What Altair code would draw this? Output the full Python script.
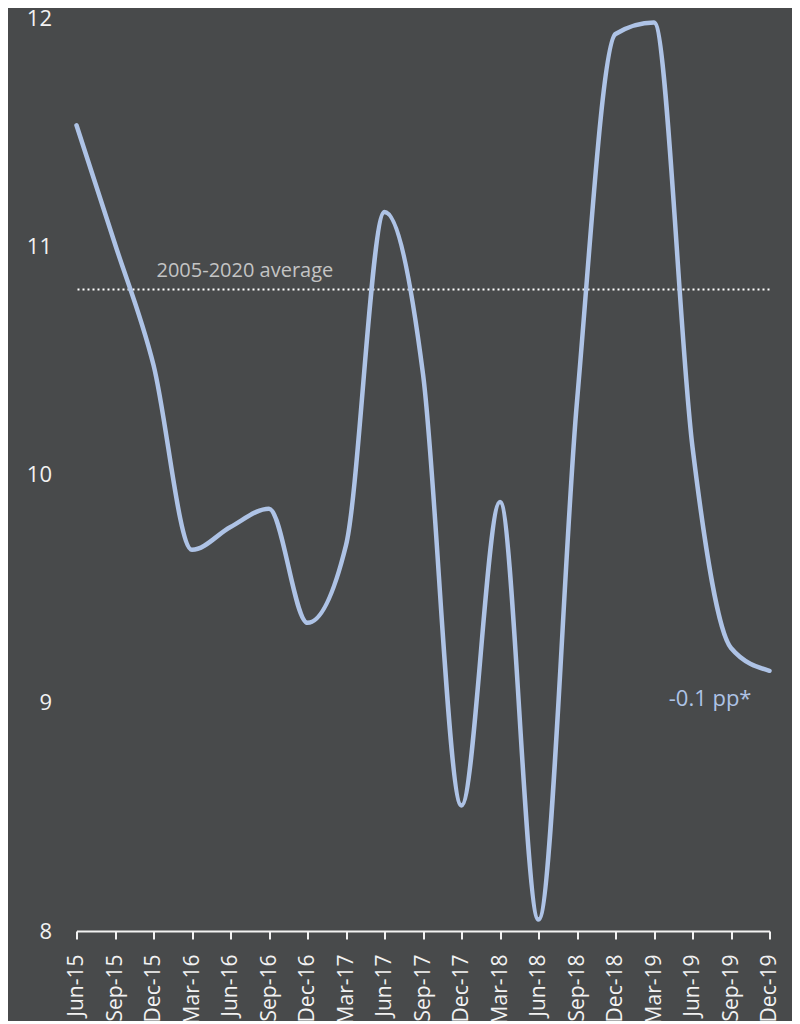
import altair as alt
import pandas as pd

quarters = ["Jun-15", "Sep-15", "Dec-15", "Mar-16", "Jun-16", "Sep-16", "Dec-16",
            "Mar-17", "Jun-17", "Sep-17", "Dec-17", "Mar-18", "Jun-18", "Sep-18",
            "Dec-18", "Mar-19", "Jun-19", "Sep-19", "Dec-19"]
values = [11.53, 11.01, 10.48, 9.67, 9.77, 9.85, 9.35,
          9.69, 11.15, 10.44, 8.55, 9.88, 8.05, 10.32,
          11.93, 11.98, 10.12, 9.24, 9.14]
average_value = 10.81
average_label = "2005-2020 average"
end_label = "-0.1 pp*"

df = pd.DataFrame({"quarter": quarters, "value": values})

line_color = "#aec3e6"
axis_color = "#f2f2f2"

x_enc = alt.X("quarter:N", sort=quarters, title=None,
              scale=alt.Scale(type="point", padding=0),
              axis=alt.Axis(labelAngle=270, labelFontSize=21, labelColor=axis_color,
                            domainColor=axis_color, domainWidth=2, tickColor=axis_color,
                            tickWidth=2, tickSize=8, labelPadding=15,
                            labelFont="Open Sans", labelBaseline="middle"))
y_scale = alt.Scale(domain=[8, 12], nice=False, zero=False)

line = alt.Chart(df).mark_line(interpolate="monotone", color=line_color,
                               strokeWidth=4.5, strokeCap="round").encode(
    x=x_enc,
    y=alt.Y("value:Q", scale=y_scale, title=None,
            axis=alt.Axis(values=[8, 9, 10, 11, 12], format="d", labelFontSize=22,
                          labelColor=axis_color, domain=False, ticks=False,
                          grid=False, labelPadding=25, labelFont="Open Sans"))
)

avg_df = pd.DataFrame({"value": [average_value], "label": [average_label],
                       "quarter": ["Dec-15"]})
rule = alt.Chart(avg_df).mark_rule(color="white", strokeWidth=2,
                                   strokeDash=[2, 3]).encode(
    y=alt.Y("value:Q", scale=y_scale)
)
avg_text = alt.Chart(avg_df).mark_text(align="left", baseline="alphabetic", dx=3, dy=-13,
                                       fontSize=20, color="#c4c4c4",
                                       font="Open Sans").encode(
    x=alt.X("quarter:N", sort=quarters),
    y=alt.Y("value:Q", scale=y_scale),
    text="label:N"
)

end_df = pd.DataFrame({"quarter": [quarters[-1]], "value": [values[-1]],
                       "label": [end_label]})
end_text = alt.Chart(end_df).mark_text(align="right", baseline="middle", dx=-18, dy=28,
                                       fontSize=22, color=line_color,
                                       font="Open Sans").encode(
    x=alt.X("quarter:N", sort=quarters),
    y=alt.Y("value:Q", scale=y_scale),
    text="label:N"
)

chart = alt.layer(rule, avg_text, line, end_text).properties(
    width=693, height=913,
    autosize=alt.AutoSizeParams(type="none"),
    padding={"left": 68.5, "top": 10, "right": 22, "bottom": 90},
    background="#484a4b"
).configure_view(stroke=None)

chart.save("out.html", embed_options={"renderer": "svg", "actions": False})
